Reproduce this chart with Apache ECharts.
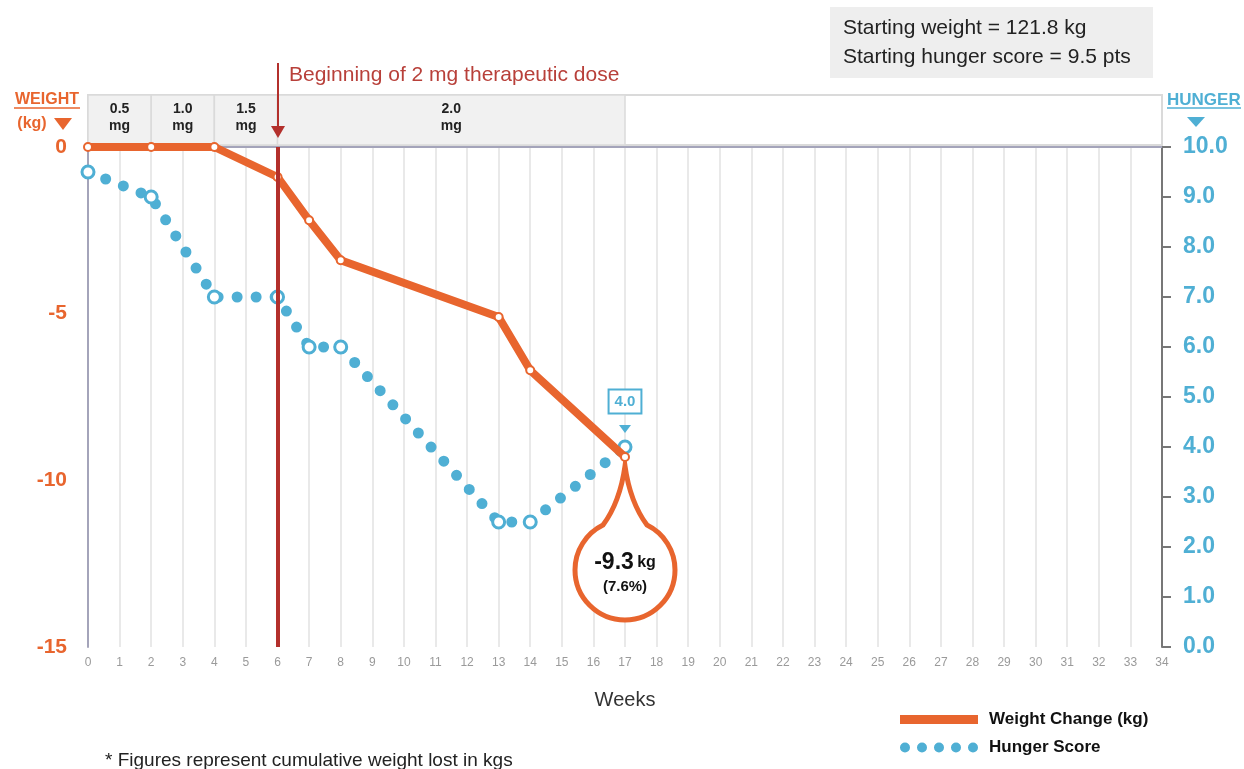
<!DOCTYPE html>
<html>
<head>
<meta charset="utf-8">
<title>Weight change and hunger score</title>
<script src="https://cdn.jsdelivr.net/npm/echarts@6/dist/echarts.min.js"></script>
<style>
  html, body { margin: 0; padding: 0; background: #fff; }
  #chart { width: 1244px; height: 769px; }
</style>
</head>
<body>
<div id="chart"></div>
<script>
// measured visits
const weeks = [0, 2, 4, 6, 7, 8, 13, 14, 17]
const weightChange = [0, 0, 0, -0.9, -2.2, -3.4, -5.1, -6.7, -9.3]
const hungerScore = [9.5, 9.0, 7.0, 7.0, 6.0, 6.0, 2.5, 2.5, 4.0]

// dose schedule (weeks)
const doseFrom = [0, 2, 4, 6]
const doseTo = [2, 4, 6, 17]
const doseMg = ['0.5', '1.0', '1.5', '2.0']
const therapeuticWeek = 6

const startingWeight = 121.8
const startingHunger = 9.5

const ORANGE = '#e8652e'
const BLUE = '#4fafd4'
const RED = '#b3302c'
const FONT = "'Liberation Sans', Arial, Helvetica, sans-serif"

const chart = echarts.init(document.getElementById('chart'))

const last = weeks.length - 1
const weightData = weeks.map((w, i) => [w, weightChange[i]])
const hungerData = weeks.map((w, i) => {
  if (i !== last) return [w, hungerScore[i]]
  return {
    value: [w, hungerScore[i]],
    label: {
      show: true,
      position: 'top',
      distance: 27,
      formatter: p => p.value[1].toFixed(1),
      color: BLUE,
      fontWeight: 'bold',
      fontSize: 15,
      backgroundColor: '#fff',
      borderColor: BLUE,
      borderWidth: 2,
      padding: [4, 5, 3, 5]
    }
  }
})

const dotsIcon = 'path://' + [0, 17, 34, 51, 68].map(x =>
  `M${x},5a5,5 0 1,0 10,0a5,5 0 1,0 -10,0Z`).join(' ')

// speech bubble under the last weight point, tip (x, y), circle r=50 below
function bubblePath(x, y) {
  const p = (dx, dy) => `${(x + dx - 50).toFixed(2)},${(y + dy).toFixed(2)}`
  return 'M' + p(50, 0) + ' Q' + p(45, 36) + ' ' + p(28, 59.1) +
    ' C' + p(10.86, 67.5) + ' ' + p(0, 84.91) + ' ' + p(0, 104) +
    ' C' + p(0, 131.6) + ' ' + p(22.4, 154) + ' ' + p(50, 154) +
    ' C' + p(77.6, 154) + ' ' + p(100, 131.6) + ' ' + p(100, 104) +
    ' C' + p(100, 84.91) + ' ' + p(89.14, 67.5) + ' ' + p(72, 59.1) +
    ' Q' + p(55, 36) + ' ' + p(50, 0) + ' Z'
}

const legendBase = {
  left: 895,
  itemWidth: 78, itemHeight: 12,
  selectedMode: false,
  textStyle: { fontSize: 17, fontWeight: 'bold', color: '#111', padding: [0, 0, 0, 6] }
}

const option = {
  animation: false,
  textStyle: { fontFamily: FONT },
  grid: [
    { left: 88, right: 82, top: 147, bottom: 122, outerBoundsMode: 'none' },
    { left: 88, right: 82, top: 95, height: 50, show: true, backgroundColor: '#fff',
      borderColor: '#dadada', borderWidth: 2, outerBoundsMode: 'none' }
  ],
  xAxis: [
    {
      gridIndex: 0, type: 'value', min: 0, max: 34, interval: 1,
      name: 'Weeks', nameLocation: 'middle', nameGap: 43,
      nameTextStyle: { fontSize: 20, color: '#333' },
      axisLine: { lineStyle: { color: '#a4a4ba', width: 2 } },
      axisTick: { show: false },
      axisLabel: { color: '#9a9a9a', fontSize: 12, margin: 10 },
      splitLine: { show: true, lineStyle: { color: '#e2e2e2', width: 1.5 } }
    },
    { gridIndex: 1, type: 'value', min: 0, max: 34, show: false }
  ],
  yAxis: [
    {
      gridIndex: 0, type: 'value', min: -15, max: 0, interval: 5,
      axisLine: { show: true, lineStyle: { color: '#a4a4ba', width: 2 } },
      axisTick: { show: false },
      splitLine: { show: false },
      axisLabel: { color: ORANGE, fontWeight: 'bold', fontSize: 21, margin: 21 }
    },
    {
      gridIndex: 0, type: 'value', position: 'right', min: 0, max: 10, interval: 1,
      axisLine: { show: true, lineStyle: { color: '#777', width: 2 } },
      axisTick: { show: true, length: 9, lineStyle: { color: '#777', width: 2 } },
      splitLine: { show: false },
      axisLabel: { color: BLUE, fontWeight: 'bold', fontSize: 23, margin: 21,
        formatter: v => v.toFixed(1) }
    },
    { gridIndex: 1, type: 'value', min: 0, max: 1, show: false }
  ],
  legend: [
    Object.assign({}, legendBase, {
      top: 706,
      data: [{ name: 'Weight Change (kg)', icon: 'path://M0,0h78v9h-78z',
        itemStyle: { color: ORANGE, borderWidth: 0 } }]
    }),
    Object.assign({}, legendBase, {
      top: 734,
      data: [{ name: 'Hunger Score', icon: dotsIcon,
        itemStyle: { color: BLUE, borderWidth: 0 } }]
    })
  ],
  series: [
    {
      name: 'Dose',
      type: 'custom',
      xAxisIndex: 1, yAxisIndex: 2,
      z: 2, silent: true,
      data: doseFrom.map((s, i) => [s, doseTo[i]]),
      renderItem: (params, api) => {
        const tl = api.coord([api.value(0), 1])
        const br = api.coord([api.value(1), 0])
        return {
          type: 'group',
          children: [
            { type: 'rect',
              shape: { x: tl[0], y: tl[1], width: br[0] - tl[0], height: br[1] - tl[1] },
              style: { fill: '#f1f1f1', stroke: '#dadada', lineWidth: 1.5 } },
            { type: 'text',
              x: (tl[0] + br[0]) / 2, y: (tl[1] + br[1]) / 2 - 2,
              style: { text: doseMg[params.dataIndex] + '\nmg', fill: '#222',
                fontSize: 14, fontWeight: 'bold', fontFamily: FONT,
                align: 'center', verticalAlign: 'middle', lineHeight: 17 } }
          ]
        }
      }
    },
    {
      name: 'Therapeutic start',
      type: 'custom',
      xAxisIndex: 1, yAxisIndex: 2,
      z: 6, silent: true,
      data: [[therapeuticWeek]],
      renderItem: (params, api) => {
        const p = api.coord([api.value(0), 1])
        const x = Math.round(p[0])
        const top = p[1]
        return {
          type: 'group',
          children: [
            { type: 'line', shape: { x1: x, y1: top - 32, x2: x, y2: top + 33 },
              style: { stroke: RED, lineWidth: 2 } },
            { type: 'polygon', shape: { points: [[x - 7, top + 31], [x + 7, top + 31], [x, top + 43]] },
              style: { fill: RED } },
            { type: 'text', x: x + 11, y: top - 20,
              style: { text: 'Beginning of 2 mg therapeutic dose', fill: '#b8403a',
                fontSize: 21, fontFamily: FONT, align: 'left', verticalAlign: 'middle' } }
          ]
        }
      }
    },
    {
      name: 'Final weight callout',
      type: 'custom',
      xAxisIndex: 0, yAxisIndex: 0,
      z: 3, silent: true,
      data: [[weeks[last], weightChange[last]]],
      renderItem: (params, api) => {
        const v = api.value(1)
        const p = api.coord([api.value(0), v])
        const tipY = p[1] + 9
        const pct = (Math.abs(v) / startingWeight * 100).toFixed(1)
        return {
          type: 'group',
          children: [
            { type: 'path', shape: { pathData: bubblePath(p[0], tipY) },
              style: { fill: '#fff', stroke: ORANGE, lineWidth: 5 } },
            { type: 'text', x: p[0], y: tipY + 109,
              style: {
                text: `{a|${v.toFixed(1)}} {b|kg}\n{c|(${pct}%)}`,
                align: 'center', verticalAlign: 'middle', fill: '#111',
                rich: {
                  a: { fontSize: 23, fontWeight: 'bold', fill: '#111', fontFamily: FONT },
                  b: { fontSize: 16, fontWeight: 'bold', fill: '#111', fontFamily: FONT },
                  c: { fontSize: 15, fontWeight: 'bold', fill: '#111', fontFamily: FONT, lineHeight: 24 }
                }
              } }
          ]
        }
      }
    },
    {
      name: 'Hunger Score',
      type: 'line',
      xAxisIndex: 0, yAxisIndex: 1,
      z: 3,
      data: hungerData,
      symbol: 'circle',
      symbolSize: 12,
      itemStyle: { color: '#fff', borderColor: BLUE, borderWidth: 3 },
      lineStyle: { color: BLUE, width: 11, type: [0, 19], cap: 'round' },
      emphasis: { disabled: true },
      markPoint: {
        silent: true,
        symbol: 'triangle',
        symbolRotate: 180,
        symbolSize: [12, 8],
        symbolOffset: [0, -18],
        itemStyle: { color: BLUE },
        label: { show: false },
        data: [{ coord: [weeks[last], hungerScore[last]] }]
      }
    },
    {
      name: 'Weight Change (kg)',
      type: 'line',
      xAxisIndex: 0, yAxisIndex: 0,
      z: 4,
      data: weightData,
      symbol: 'circle',
      symbolSize: 8,
      itemStyle: { color: '#fff', borderColor: ORANGE, borderWidth: 2 },
      lineStyle: { color: ORANGE, width: 8, join: 'round' },
      emphasis: { disabled: true },
      markLine: {
        silent: true,
        symbol: ['none', 'none'],
        label: { show: false },
        lineStyle: { color: RED, width: 4, type: 'solid' },
        data: [{ xAxis: therapeuticWeek }]
      }
    }
  ],
  graphic: [
    { type: 'rect', shape: { x: 830, y: 7, width: 323, height: 71 }, style: { fill: '#eeeeee' }, silent: true },
    { type: 'text', x: 843, y: 28, style: { text: `Starting weight = ${startingWeight} kg`,
      fill: '#222', fontSize: 21, fontFamily: FONT, verticalAlign: 'middle' } },
    { type: 'text', x: 843, y: 57, style: { text: `Starting hunger score = ${startingHunger} pts`,
      fill: '#222', fontSize: 21, fontFamily: FONT, verticalAlign: 'middle' } },

    { type: 'text', x: 47, y: 100, style: { text: 'WEIGHT', fill: ORANGE, fontSize: 16,
      fontWeight: 'bold', fontFamily: FONT, align: 'center', verticalAlign: 'middle' } },
    { type: 'line', shape: { x1: 14, y1: 108, x2: 80, y2: 108 }, style: { stroke: ORANGE, lineWidth: 1.5 } },
    { type: 'text', x: 32, y: 124, style: { text: '(kg)', fill: ORANGE, fontSize: 16,
      fontWeight: 'bold', fontFamily: FONT, align: 'center', verticalAlign: 'middle' } },
    { type: 'polygon', shape: { points: [[54, 118], [72, 118], [63, 130]] }, style: { fill: ORANGE } },

    { type: 'text', x: 1167, y: 100, style: { text: 'HUNGER', fill: BLUE, fontSize: 17,
      fontWeight: 'bold', fontFamily: FONT, align: 'left', verticalAlign: 'middle' } },
    { type: 'line', shape: { x1: 1167, y1: 108, x2: 1241, y2: 108 }, style: { stroke: BLUE, lineWidth: 1.5 } },
    { type: 'polygon', shape: { points: [[1187, 117], [1205, 117], [1196, 127]] }, style: { fill: BLUE } },

    { type: 'text', x: 105, y: 761, style: { text: '* Figures represent cumulative weight lost in kgs',
      fill: '#222', fontSize: 19, fontFamily: FONT, verticalAlign: 'middle' } }
  ]
}

chart.setOption(option)
window.addEventListener('resize', () => chart.resize())
</script>
</body>
</html>
